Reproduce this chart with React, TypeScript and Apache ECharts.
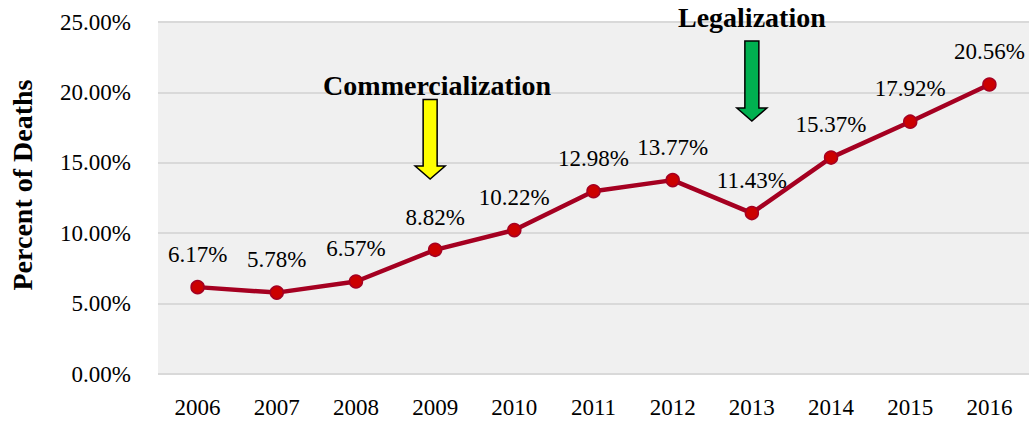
import React, { useEffect, useRef } from "react";
import * as echarts from "echarts";

const years = ["2006", "2007", "2008", "2009", "2010", "2011", "2012", "2013", "2014", "2015", "2016"];
const percentOfDeaths = [6.17, 5.78, 6.57, 8.82, 10.22, 12.98, 13.77, 11.43, 15.37, 17.92, 20.56];
const yMin = 0;
const yMax = 25;
const yInterval = 5;
const yAxisTitle = "Percent of Deaths";

const annotationLabels = ["Commercialization", "Legalization"];
const annotationYears = ["2009", "2013"];
const annotationTextValues = [20.5, 25.35];
const arrowTopValues = [19.5, 23.65];
const arrowTipValues = [13.85, 17.97];
const arrowColors = ["#ffff00", "#00b050"];
const arrowDx = [-5, 0];
const textDx = [2, 0];

const FONT = "Liberation Serif";

export default function App() {
  const ref = useRef<HTMLDivElement>(null);

  useEffect(() => {
    if (!ref.current) return;
    const chart = echarts.init(ref.current, null, { renderer: "svg" });
    chart.setOption({
      animation: false,
      backgroundColor: "#ffffff",
      textStyle: { fontFamily: FONT },
      grid: {
        left: 158,
        right: 0,
        top: 22,
        bottom: 47,
        show: true,
        backgroundColor: "#f0f0f0",
        borderWidth: 0,
      },
      xAxis: {
        type: "category",
        data: years,
        boundaryGap: true,
        axisLine: { show: false },
        axisTick: { show: false },
        axisLabel: { color: "#000", fontFamily: FONT, fontSize: 23, margin: 22 },
      },
      yAxis: {
        type: "value",
        min: yMin,
        max: yMax,
        interval: yInterval,
        axisLine: { show: false },
        axisTick: { show: false },
        splitLine: { lineStyle: { color: "#d9d9d9", width: 2 } },
        axisLabel: {
          color: "#000",
          fontFamily: FONT,
          fontSize: 23,
          margin: 27,
          formatter: (v: number) => v.toFixed(2) + "%",
        },
      },
      series: [
        {
          type: "line",
          data: percentOfDeaths,
          symbol: "circle",
          symbolSize: 13,
          lineStyle: { color: "#a50021", width: 4.5 },
          itemStyle: { color: "#cc0000", borderColor: "#a50021", borderWidth: 1.5 },
          label: {
            show: true,
            position: "top",
            distance: 14,
            color: "#000",
            fontFamily: FONT,
            fontSize: 23,
            formatter: (p: any) => p.value.toFixed(2) + "%",
          },
        },
      ],
    });

    const graphics: any[] = [];
    annotationLabels.forEach((label, i) => {
      const [tx, ty] = chart.convertToPixel({ gridIndex: 0 }, [annotationYears[i], annotationTextValues[i]]) as number[];
      const [ax, aTop] = chart.convertToPixel({ gridIndex: 0 }, [annotationYears[i], arrowTopValues[i]]) as number[];
      const [, aTip] = chart.convertToPixel({ gridIndex: 0 }, [annotationYears[i], arrowTipValues[i]]) as number[];
      const x = ax + arrowDx[i];
      const sw = 7;
      const hw = 15;
      const hh = 13;
      graphics.push({
        type: "polygon",
        shape: {
          points: [
            [x - sw, aTop],
            [x + sw, aTop],
            [x + sw, aTip - hh],
            [x + hw, aTip - hh],
            [x, aTip],
            [x - hw, aTip - hh],
            [x - sw, aTip - hh],
          ],
        },
        style: { fill: arrowColors[i], stroke: "#000", lineWidth: 1.5 },
        z: 10,
      });
      graphics.push({
        type: "text",
        x: tx + textDx[i],
        y: ty,
        style: {
          text: label,
          font: `bold 28px ${FONT}`,
          fill: "#000",
          textAlign: "center",
          textVerticalAlign: "middle",
          align: "center",
          verticalAlign: "middle",
        },
        z: 10,
      });
    });
    graphics.push({
      type: "text",
      x: 22,
      y: 185,
      rotation: Math.PI / 2,
      style: {
        text: yAxisTitle,
        font: `bold 28px ${FONT}`,
        fill: "#000",
        textAlign: "center",
        textVerticalAlign: "middle",
        align: "center",
        verticalAlign: "middle",
      },
    });
    chart.setOption({ graphic: graphics });

    return () => chart.dispose();
  }, []);

  return (
    <div
      ref={ref}
      style={{ position: "absolute", left: 0, top: 0, width: 1029, height: 421 }}
    />
  );
}
